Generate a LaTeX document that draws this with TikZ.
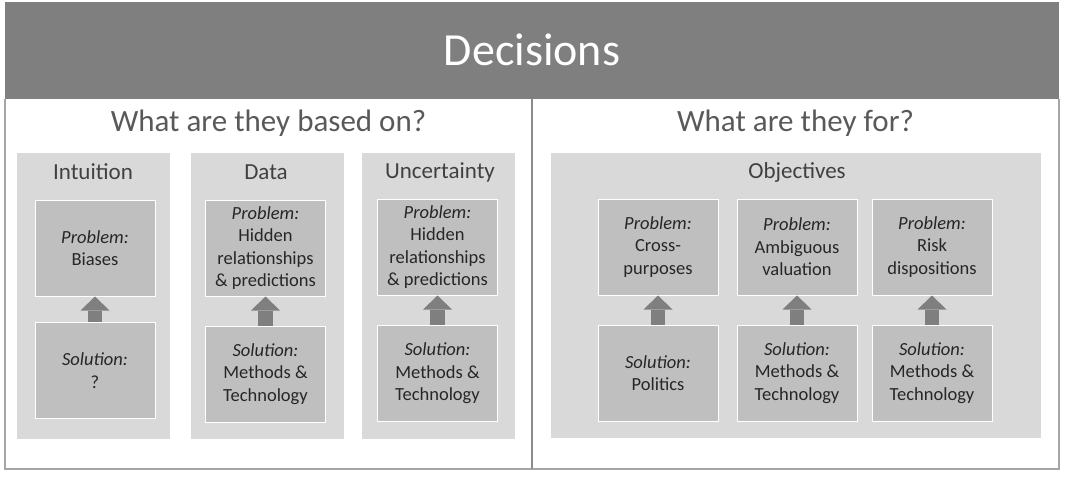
\documentclass[tikz,border=0pt]{standalone}
\usepackage{fontspec}
\setmainfont{Carlito}
\usetikzlibrary{arrows.meta}

\definecolor{headgray}{HTML}{7F7F7F}
\definecolor{colgray}{HTML}{D9D9D9}
\definecolor{boxgray}{HTML}{BFBFBF}
\definecolor{framegray}{HTML}{A6A6A6}
\definecolor{titletext}{HTML}{404040}
\definecolor{subtext}{HTML}{595959}
\definecolor{boxtext}{HTML}{262626}

\newcommand{\probtext}[1]{\textit{Problem:}\\#1}
\newcommand{\soltext}[1]{\textit{Solution:}\\#1}

\begin{document}
\begin{tikzpicture}[x=1pt,y=-1pt,
    column/.style={fill=colgray,minimum width=153pt,minimum height=286pt,inner sep=0pt},
    coltitle/.style={text=titletext,font=\fontsize{23}{27}\selectfont},
    subtitle/.style={text=subtext,font=\fontsize{31}{36}\selectfont},
    inbox/.style={fill=boxgray,draw=white,line width=1pt,minimum width=120pt,minimum height=96pt,
        inner sep=2pt,align=center,text=boxtext,font=\fontsize{18.5}{22.5}\selectfont},
    uparrow/.style={draw=headgray,line width=14.5pt,-{Triangle[width=29pt,length=14pt,line width=0pt]}}]
    \useasboundingbox (0,0) rectangle (1065,477);

    % header and frame
    \fill[headgray] (5,2) rectangle (1059,99);
    \node[text=white,font=\fontsize{46}{54}\selectfont] (decisions) at (532,50) {Decisions};
    \draw[framegray,line width=1.5pt] (5,99) -- (5,469) -- (1059,469) -- (1059,99);
    \draw[headgray!90,line width=2pt] (532,99) -- (532,469);

    \node[subtitle] (basedon) at (268.5,123) {What are they based on?};
    \node[subtitle] (forwhat) at (795.5,123) {What are they for?};

    % left side
    \draw (93,296) node[column] (intuition) {};
    \draw (267,296) node[column] (data) {};
    \draw (438.5,296) node[column] (uncert) {};
    \node[coltitle] (intuitiont) at (93,172) {Intuition};
    \node[coltitle] (datat) at (266,172) {Data};
    \node[coltitle] (uncertt) at (440,172) {Uncertainty};

    \draw (95,248) node[inbox] (probint) {\probtext{Biases}};
    \draw (95,370.5) node[inbox] (solint) {\soltext{?}};
    \draw (265.5,248) node[inbox] (probdata) {\probtext{Hidden\\relationships\\\& predictions}};
    \draw (265.5,374) node[inbox] (soldata) {\soltext{Methods \&\\Technology}};
    \draw (437.5,247) node[inbox] (probunc) {\probtext{Hidden\\relationships\\\& predictions}};
    \draw (437.5,373.5) node[inbox] (solunc) {\soltext{Methods \&\\Technology}};

    % right side
    \draw (796,295.5) node[fill=colgray,minimum width=490pt,minimum height=285pt] (objectives) {};
    \node[coltitle] (objectivest) at (797,172) {Objectives};

    \draw (658,247) node[inbox] (probcross) {\probtext{Cross-\\purposes}};
    \draw (658,373) node[inbox] (solcross) {\soltext{Politics}};
    \draw (797,247) node[inbox] (probval) {\probtext{Ambiguous\\valuation}};
    \draw (797,373) node[inbox] (solval) {\soltext{Methods \&\\Technology}};
    \draw (932,247) node[inbox] (probrisk) {\probtext{Risk\\dispositions}};
    \draw (932,373) node[inbox] (solrisk) {\soltext{Methods \&\\Technology}};

    \draw[uparrow] (solint) -- (probint);
    \draw[uparrow] (soldata) -- (probdata);
    \draw[uparrow] (solunc) -- (probunc);
    \draw[uparrow] (solcross) -- (probcross);
    \draw[uparrow] (solval) -- (probval);
    \draw[uparrow] (solrisk) -- (probrisk);
\end{tikzpicture}
\end{document}
